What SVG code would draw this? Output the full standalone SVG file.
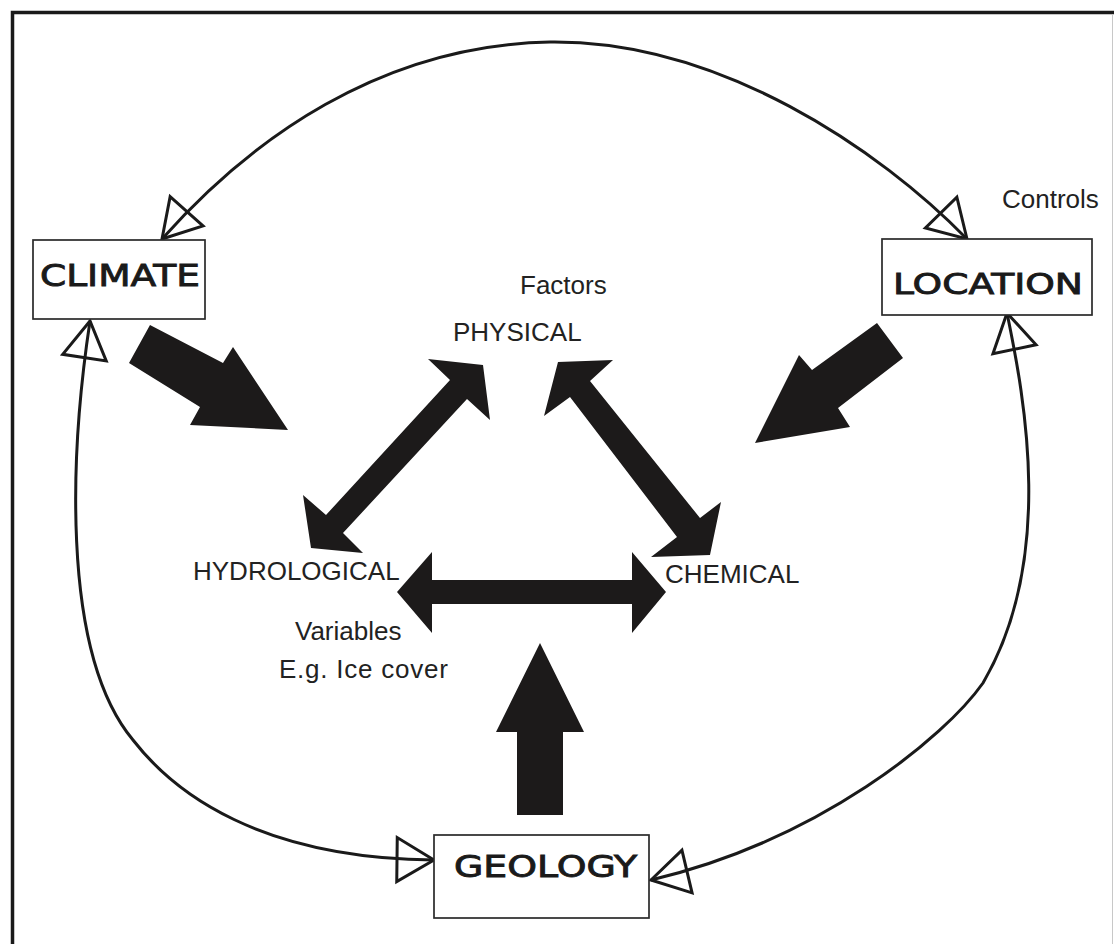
<svg xmlns="http://www.w3.org/2000/svg" width="1114" height="944" viewBox="0 0 1114 944">
<style>
.box{fill:#fff;stroke:#2a2a2a;stroke-width:1.7}
.title{font-family:"DejaVu Sans","Liberation Sans",sans-serif;font-weight:normal;fill:#1a1a1a;stroke:#1a1a1a;stroke-width:0.9}
.lbl{font-family:"Liberation Sans",Arial,sans-serif;font-size:26px;fill:#222}
.thin{fill:none;stroke:#1a1a1a;stroke-width:3;marker-start:url(#hollow);marker-end:url(#hollow)}
.big{fill:#1c1a1a;stroke:none}
</style>
<defs>
<marker id="hollow" viewBox="-42 -27 46 54" refX="0" refY="0" markerWidth="46" markerHeight="54" markerUnits="userSpaceOnUse" orient="auto-start-reverse">
<path d="M0,0 L-37,-22 L-37,22 Z" fill="none" stroke="#1a1a1a" stroke-width="3" stroke-linejoin="miter"/>
</marker>
</defs>
<rect width="1114" height="944" fill="#fff"/>
<g id="frame">
<path d="M12.5,944 V12.5 H1114" fill="none" stroke="#1a1a1a" stroke-width="3.5"/>
<path d="M1112.5,14 V944" fill="none" stroke="#c8c8c8" stroke-width="1"/>
</g>
<g id="connectors">
<path class="thin" d="M162,239 C250,140 380,45 550,42 C720,40 880,150 967,239"/>
<path class="thin" d="M90,321 C72,440 58,650 133,740 C175,794 260,858 434,860"/>
<path class="thin" d="M1007,313 C1025,400 1055,560 983,683 C945,737 820,840 651,880"/>
<polygon class="big" points="150,325 223,363 233,347 288,430 190,425 200,407 129,363"/>
<polygon class="big" points="877,323 903,358 838,408 850,427 755,443 799,355 812,370"/>
<polygon class="big" points="540,643 584,732 563,732 563,815 517,815 517,732 496,732"/>
<polygon class="big" points="397,592 432,552 432,580 632,580 632,552 666,592 632,633 632,604 432,604 432,633"/>
<polygon class="big" points="483,365 490,420 467,399 343,533 363,553 311,548 303,495 326,515 450,380 428,359"/>
<polygon class="big" points="558,362 613,360 590,381 700,518 721,502 710,555 651,557 677,537 570,397 544,416"/>
</g>
<g id="climate">
<rect class="box" x="33" y="240" width="172" height="79"/>
<text class="title" x="40" y="286" font-size="31" textLength="160" lengthAdjust="spacingAndGlyphs">CLIMATE</text>
</g>
<g id="location">
<rect class="box" x="882" y="239" width="210" height="76"/>
<text class="title" x="893" y="294" font-size="29" textLength="190" lengthAdjust="spacingAndGlyphs">LOCATION</text>
</g>
<g id="geology">
<rect class="box" x="434" y="835" width="215" height="83"/>
<text class="title" x="454" y="877" font-size="30" textLength="183" lengthAdjust="spacingAndGlyphs">GEOLOGY</text>
</g>
<g id="physical"><text class="lbl" x="453" y="341">PHYSICAL</text></g>
<g id="hydrological"><text class="lbl" x="193" y="580">HYDROLOGICAL</text></g>
<g id="chemical"><text class="lbl" x="665" y="583">CHEMICAL</text></g>
<g id="notes">
<text class="lbl" x="1002" y="208">Controls</text>
<text class="lbl" x="520" y="294">Factors</text>
<text class="lbl" x="295" y="640">Variables</text>
<text class="lbl" x="279" y="678" textLength="169">E.g. Ice cover</text>
</g>
</svg>
